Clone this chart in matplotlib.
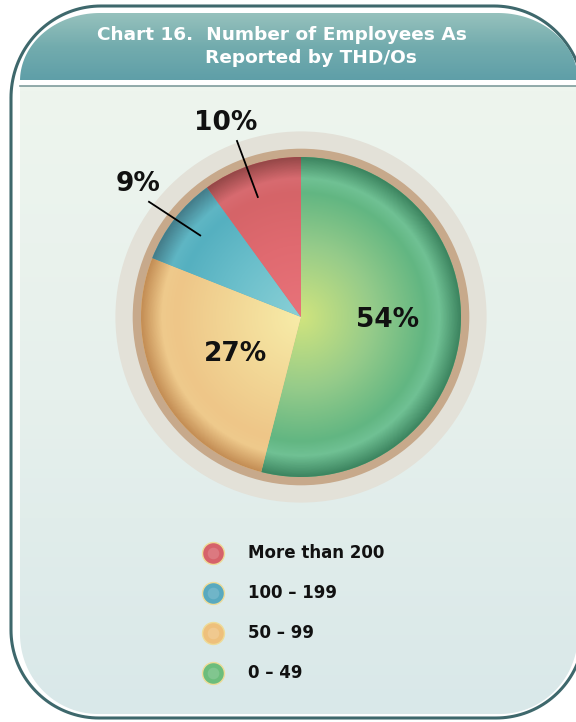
import numpy as np
import matplotlib
matplotlib.use("Agg")
import matplotlib.pyplot as plt
from matplotlib.patches import PathPatch, Circle
from matplotlib.path import Path
from matplotlib.colors import LinearSegmentedColormap

# data
categories = ['0 – 49', '50 – 99', '100 – 199', 'More than 200']
shares = [54, 27, 9, 10]
# radial shading per slice, centre -> rim
slice_shades = [
    ['#d0e47e', '#95cb8a', '#62b682', '#70c194', '#3d8560'],
    ['#f7eca8', '#f2d695', '#eec688', '#efca8c', '#c48e55'],
    ['#8ad0d6', '#6bbfcb', '#55b0c0', '#5fb6c4', '#447d8a'],
    ['#e8737a', '#e06a70', '#d56468', '#d86b70', '#964848'],
]
shade_stops = [0.0, 0.45, 0.78, 0.87, 1.0]
legend_order = [3, 2, 1, 0]
legend_colors = ['#6cbd7c', '#eec07c', '#58a9bf', '#d6626a']
title_lines = ['Chart 16.  Number of Employees As', 'Reported by THD/Os']

W, H = 576, 722


def rounded_box(x0, y0, x1, y1, rtx, rty, rbx, rby):
    # rectangle with elliptic corners, y grows downward
    t = np.linspace(0, np.pi / 2, 40)
    pts = []
    pts += list(zip(x0 + rtx - rtx * np.cos(t), y0 + rty - rty * np.sin(t)))
    pts += list(zip(x1 - rtx + rtx * np.sin(t), y0 + rty - rty * np.cos(t)))
    pts += list(zip(x1 - rbx + rbx * np.cos(t), y1 - rby + rby * np.sin(t)))
    pts += list(zip(x0 + rbx - rbx * np.sin(t), y1 - rby + rby * np.cos(t)))
    pts.append(pts[0])
    return Path(pts, closed=True)


fig = plt.figure(figsize=(W / 100, H / 100), dpi=100)
fig.patch.set_facecolor('white')

# background frame, drawn in pixel coordinates
bg = fig.add_axes([0, 0, 1, 1])
bg.set_xlim(0, W)
bg.set_ylim(H, 0)
bg.axis('off')

outer = PathPatch(rounded_box(11, 6, 584, 718, 90, 92, 88, 88),
                  fc='white', ec='#3e686c', lw=2.2, zorder=1)
bg.add_patch(outer)
inner = PathPatch(rounded_box(20, 13, 578, 714, 80, 68, 78, 80),
                  fc='none', ec='none', zorder=1)
bg.add_patch(inner)

head = np.linspace(0, 1, 64).reshape(-1, 1)
hcm = LinearSegmentedColormap.from_list('h', ['#97c2bd', '#73acae', '#5f9fa8'])
im = bg.imshow(head, cmap=hcm, extent=(20, 578, 80.5, 13), origin='upper',
               aspect='auto', zorder=2)
im.set_clip_path(inner)

body = np.linspace(0, 1, 128).reshape(-1, 1)
bcm = LinearSegmentedColormap.from_list('b', ['#eef5ee', '#e6f0ec', '#d9e8e9'])
im = bg.imshow(body, cmap=bcm, extent=(20, 578, 714, 86.5), origin='upper',
               aspect='auto', zorder=2)
im.set_clip_path(inner)
bg.plot([20, 578], [86, 86], color='#7f9c9c', lw=1.2, zorder=3)

bg.text(97, 35, title_lines[0], color='white', fontsize=13.3, fontweight='bold',
        ha='left', va='center', zorder=5)
bg.text(205, 58, title_lines[1], color='white', fontsize=13.3, fontweight='bold',
        ha='left', va='center', zorder=5)

# legend
for k, i in enumerate(legend_order):
    y = 553 + 40 * k
    bg.scatter([213], [y], s=250, color=legend_colors[i], edgecolor='#eedc98',
               lw=1, zorder=4)
    bg.scatter([213], [y], s=70, color='white', alpha=0.15, lw=0, zorder=5)
    bg.text(248, y, categories[i], fontsize=12, fontweight='bold',
            ha='left', va='center', color='#111111', zorder=5)

# pie axes: 1 unit = 160 px, centre at (301, 317)
R = 160.0
span = 1.25
ax = fig.add_axes([(301 - span * R) / W, (H - 317 - span * R) / H,
                   2 * span * R / W, 2 * span * R / H])
ax.set_xlim(-span, span)
ax.set_ylim(-span, span)
ax.set_aspect('equal')
ax.axis('off')

ax.add_patch(Circle((0, 0), 1.16, fc='#e3e1d8', ec='none', zorder=0))
ax.add_patch(Circle((0, 0), 1.052, fc='#c7a98b', ec='none', zorder=0))

wedges, _ = ax.pie(shares, startangle=90, counterclock=False, radius=1.0,
                   colors=[s[2] for s in slice_shades],
                   wedgeprops=dict(lw=0))

n = 400
g = np.linspace(-1, 1, n)
xx, yy = np.meshgrid(g, g)
rr = np.clip(np.sqrt(xx ** 2 + yy ** 2), 0, 1)
for w, shade in zip(wedges, slice_shades):
    cm = LinearSegmentedColormap.from_list('s', list(zip(shade_stops, shade)))
    img = ax.imshow(rr, cmap=cm, vmin=0, vmax=1, extent=(-1, 1, -1, 1),
                    origin='lower', zorder=2)
    img.set_clip_path(w)

# percentage labels
lab_kw = dict(fontsize=19, fontweight='bold', ha='center', va='center',
              color='#111111', zorder=5)
ax.text(0.54, -0.02, '%d%%' % shares[0], **lab_kw)
ax.text(-0.41, -0.23, '%d%%' % shares[1], **lab_kw)
ax.text(-1.02, 0.83, '%d%%' % shares[2], **lab_kw)
ax.text(-0.47, 1.21, '%d%%' % shares[3], **lab_kw)
ax.plot([-0.95, -0.63], [0.72, 0.51], color='black', lw=1.3, zorder=5)
ax.plot([-0.40, -0.27], [1.10, 0.75], color='black', lw=1.3, zorder=5)

fig.savefig('out.png', dpi=100)
